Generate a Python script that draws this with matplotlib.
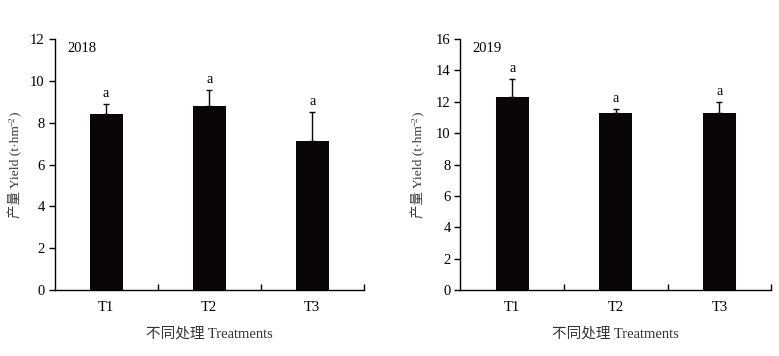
import matplotlib
matplotlib.use("Agg")
import matplotlib.pyplot as plt
import numpy as np

FONTS = ["Liberation Serif", "DejaVu Serif", "Noto Sans CJK SC"]
plt.rcParams["font.family"] = FONTS

# data
treatments = ["T1", "T2", "T3"]
years = ["2018", "2019"]
yield_2018 = [8.42, 8.80, 7.13]
err_2018 = [0.46, 0.75, 1.37]
yield_2019 = [12.30, 11.28, 11.28]
err_2019 = [1.13, 0.24, 0.70]
letters_2018 = ["a", "a", "a"]
letters_2019 = ["a", "a", "a"]
ylims = [12, 16]

BAR_COLOR = "#0a0606"
W, H = 779, 356

fig = plt.figure(figsize=(W / 100, H / 100), dpi=100)
ax1 = fig.add_axes([0.070, 0.1854, 0.397, 0.705])
ax2 = fig.add_axes([0.591, 0.1854, 0.399, 0.705])


def rotated_ylabel(x_base, y_center):
    # y label built from pieces so the superscript can be small
    parts = [("产量 Yield (t·hm", 9.7, 0), ("−2", 6.5, 4), (")", 9.7, 0)]
    renderer = fig.canvas.get_renderer()
    texts = []
    for s, size, rise in parts:
        t = fig.text(0, 0, s, fontsize=size, rotation=90, rotation_mode="anchor",
                     ha="left", va="baseline", color="#3a3a3a")
        texts.append(t)
    lengths = [t.get_window_extent(renderer).height for t in texts]
    y = y_center - sum(lengths) / 2
    for t, (s, size, rise), L in zip(texts, parts, lengths):
        t.set_position(((x_base - rise) / W, y / H))
        y += L


def draw_panel(ax, vals, errs, letters, year, ytop):
    x = np.arange(len(treatments))
    ax.bar(x, vals, width=0.32, color=BAR_COLOR, zorder=2)
    ax.errorbar(x, vals, yerr=[np.zeros(len(vals)), errs], fmt="none",
                ecolor=BAR_COLOR, elinewidth=1.0, capsize=2.5, capthick=1.0, zorder=1)
    for xi, v, e, lab in zip(x, vals, errs, letters):
        ax.text(xi, v + e + ytop * 0.017, lab, ha="center", va="bottom", fontsize=10)

    ax.set_xlim(-0.5, 2.5)
    ax.set_ylim(0, ytop)
    ax.set_yticks(np.arange(0, ytop + 1, 2))
    ax.set_xticks(x)
    ax.set_xticklabels(treatments)
    ax.set_xticks([0.5, 1.5, 2.5], minor=True)
    ax.tick_params(axis="x", which="major", length=0, pad=8, labelsize=10.5)
    ax.tick_params(axis="x", which="minor", direction="in", length=4, width=1)
    ax.tick_params(axis="y", direction="out", length=4, width=1, pad=3, labelsize=10.5)

    ax.spines["top"].set_visible(False)
    ax.spines["right"].set_visible(False)
    ax.spines["left"].set_linewidth(1)
    ax.spines["bottom"].set_linewidth(1)

    ax.text(0.04, 0.99, year, transform=ax.transAxes, ha="left", va="top", fontsize=10.5)
    ax.set_xlabel("不同处理 Treatments", fontsize=10.5, color="#333333", labelpad=9)


draw_panel(ax1, yield_2018, err_2018, letters_2018, years[0], ylims[0])
draw_panel(ax2, yield_2019, err_2019, letters_2019, years[1], ylims[1])

# y labels, positions in pixels (baseline x, centre y from the bottom)
rotated_ylabel(19, H - 165)
rotated_ylabel(422, H - 165)

fig.savefig("out.png", dpi=100)
